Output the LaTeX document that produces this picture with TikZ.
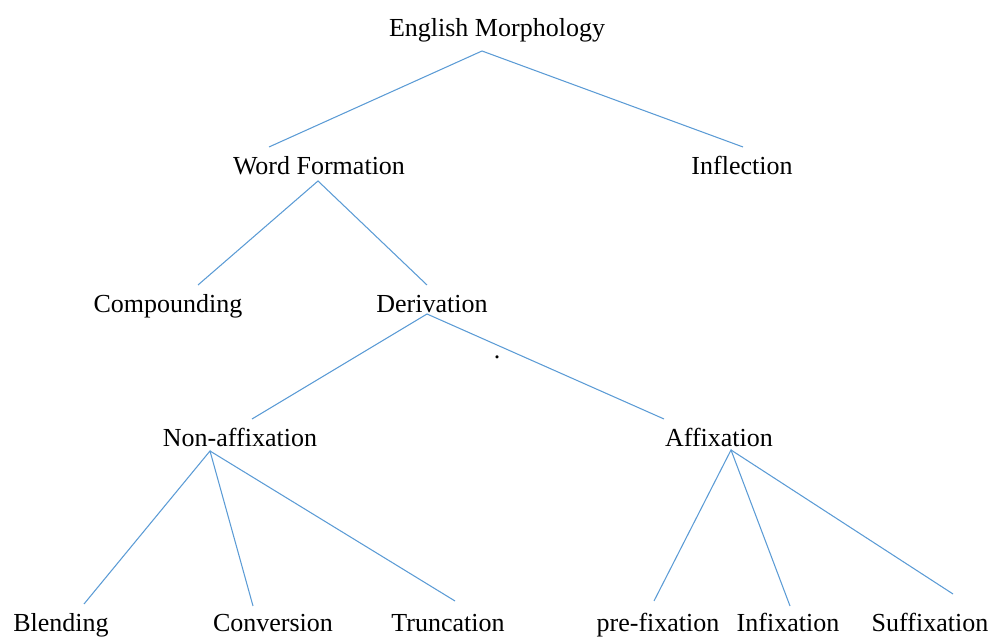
\documentclass[tikz,border=0pt]{standalone}
\usepackage{fontspec}
\setmainfont{Liberation Serif}
\usepackage{xcolor}
\usepackage{tikz}
\definecolor{branchblue}{HTML}{5B9BD5}

\begin{document}
\begin{tikzpicture}[
  lbl/.style={anchor=base,inner sep=0pt,font=\fontsize{14.8}{17}\selectfont},
  branch/.style={branchblue,line width=0.6pt}]
\useasboundingbox (0,0) rectangle (19.84,12.74);
% labels, one row per level
\node[lbl] (em) at (9.94,12.00) {English Morphology};
\node[lbl] (wf) at (6.38,9.24) {Word Formation};
\node[lbl] (infl) at (14.84,9.24) {Inflection};
\node[lbl] (comp) at (3.36,6.48) {Compounding};
\node[lbl] (deriv) at (8.64,6.48) {Derivation};
\node[lbl] (nonaff) at (4.80,3.80) {Non-affixation};
\node[lbl] (aff) at (14.38,3.80) {Affixation};
\node[lbl] (blend) at (1.22,0.10) {Blending};
\node[lbl] (conv) at (5.46,0.10) {Conversion};
\node[lbl] (trunc) at (8.96,0.10) {Truncation};
\node[lbl] (prefix) at (13.16,0.10) {pre-fixation};
\node[lbl] (infix) at (15.76,0.10) {Infixation};
\node[lbl] (suffix) at (18.60,0.10) {Suffixation};
\node[lbl] (dot) at (9.94,5.56) {.};

% line ends
\coordinate (emj) at (9.64,11.72);
\coordinate (wft) at (5.38,9.80);
\coordinate (inflt) at (14.86,9.80);
\coordinate (wfj) at (6.36,9.12);
\coordinate (compt) at (3.96,7.04);
\coordinate (derivt) at (8.54,7.04);
\coordinate (derivj) at (8.54,6.46);
\coordinate (nonafft) at (5.04,4.36);
\coordinate (afft) at (13.28,4.36);
\coordinate (nonaffj) at (4.20,3.72);
\coordinate (affj) at (14.62,3.74);
\coordinate (blendt) at (1.68,0.66);
\coordinate (convt) at (5.06,0.62);
\coordinate (trunct) at (9.10,0.72);
\coordinate (prefixt) at (13.08,0.72);
\coordinate (infixt) at (15.80,0.62);
\coordinate (suffixt) at (19.06,0.86);

% branches
\draw[branch] (wft) -- (emj) -- (inflt);
\draw[branch] (compt) -- (wfj) -- (derivt);
\draw[branch] (nonafft) -- (derivj) -- (afft);
\draw[branch] (blendt) -- (nonaffj) -- (convt);
\draw[branch] (nonaffj) -- (trunct);
\draw[branch] (prefixt) -- (affj) -- (infixt);
\draw[branch] (affj) -- (suffixt);
\end{tikzpicture}
\end{document}
